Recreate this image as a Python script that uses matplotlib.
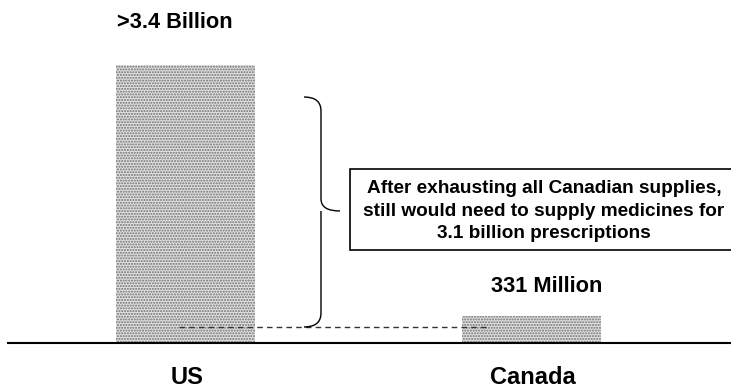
import matplotlib.pyplot as plt
from matplotlib.path import Path
from matplotlib.patches import PathPatch, Rectangle

plt.rcParams['font.family'] = ['Liberation Sans', 'DejaVu Sans']
plt.rcParams['font.weight'] = 'bold'
plt.rcParams['hatch.color'] = '#6e6e6e'
plt.rcParams['hatch.linewidth'] = 1.0

countries = ['US', 'Canada']
prescriptions = [3.4, 0.331]        # billions
value_labels = ['>3.4 Billion', '331 Million']
gap_note = ('After exhausting all Canadian supplies,\n'
            'still would need to supply medicines for\n'
            '3.1 billion prescriptions')

W, H = 731, 390
fig = plt.figure(figsize=(W / 100, H / 100), dpi=100)
# axes bottom sits on the baseline; x units = category spacing
ax = fig.add_axes([0, 47 / H, 1, 1 - 47 / H])
ax.set_xlim(-185.5 / 346, (W - 185.5) / 346)
ax.set_ylim(0, 3.4 * 343 / 278)
ax.axis('off')

xs = list(range(len(countries)))
ax.bar(xs, prescriptions, width=139 / 346, color='#e2e2e2',
       edgecolor='#6e6e6e', linewidth=0, hatch='......', zorder=2)

# baseline
ax.plot([(8 - 185.5) / 346, ax.get_xlim()[1]], [0, 0], color='black', lw=1.5,
        zorder=3, clip_on=False)

# dashed reference level running into the Canada bar
ax.plot([-0.02, 0.88], [0.19, 0.19], color='#333333', lw=1.0,
        ls=(0, (4, 3)), zorder=3)


def px(x, y):
    return (x / W, 1 - y / H)


# value labels
fig.text(*px(117, 23), value_labels[0], ha='left', va='center', fontsize=15.7)
fig.text(*px(547, 287), value_labels[1], ha='center', va='center', fontsize=15.7)

# category labels under the baseline
for x, name in zip(xs, countries):
    fig.text(*px(187 + 346 * x, 378), name, ha='center', va='center',
             fontsize=17)

# curly brace between the bars (figure pixel coordinates, y from top)
top, bot, spine, tipx, tipy, endx = 97, 327, 321, 340, 211, 304
verts = [px(endx, top), px(spine, top), px(spine, top + 14),
         px(spine, tipy - 12), px(spine, tipy), px(tipx, tipy),
         px(spine, tipy), px(spine, tipy + 12),
         px(spine, bot - 14), px(spine, bot), px(endx, bot)]
codes = [Path.MOVETO, Path.CURVE3, Path.CURVE3,
         Path.LINETO, Path.CURVE3, Path.CURVE3,
         Path.MOVETO, Path.CURVE3, Path.LINETO,
         Path.CURVE3, Path.CURVE3]
brace = PathPatch(Path(verts, codes), transform=fig.transFigure,
                  facecolor='none', edgecolor='black', lw=1.0)
fig.patches.append(brace)

# note box
x0, y0, x1, y1 = 350, 169, 732, 250
fig.patches.append(Rectangle(px(x0, y1), (x1 - x0) / W, (y1 - y0) / H,
                             transform=fig.transFigure, facecolor='white',
                             edgecolor='black', lw=1.2))
fig.text(*px(544, 211), gap_note, ha='center', va='center',
         fontsize=13.7, linespacing=1.4)

fig.savefig('out.png', dpi=100)
